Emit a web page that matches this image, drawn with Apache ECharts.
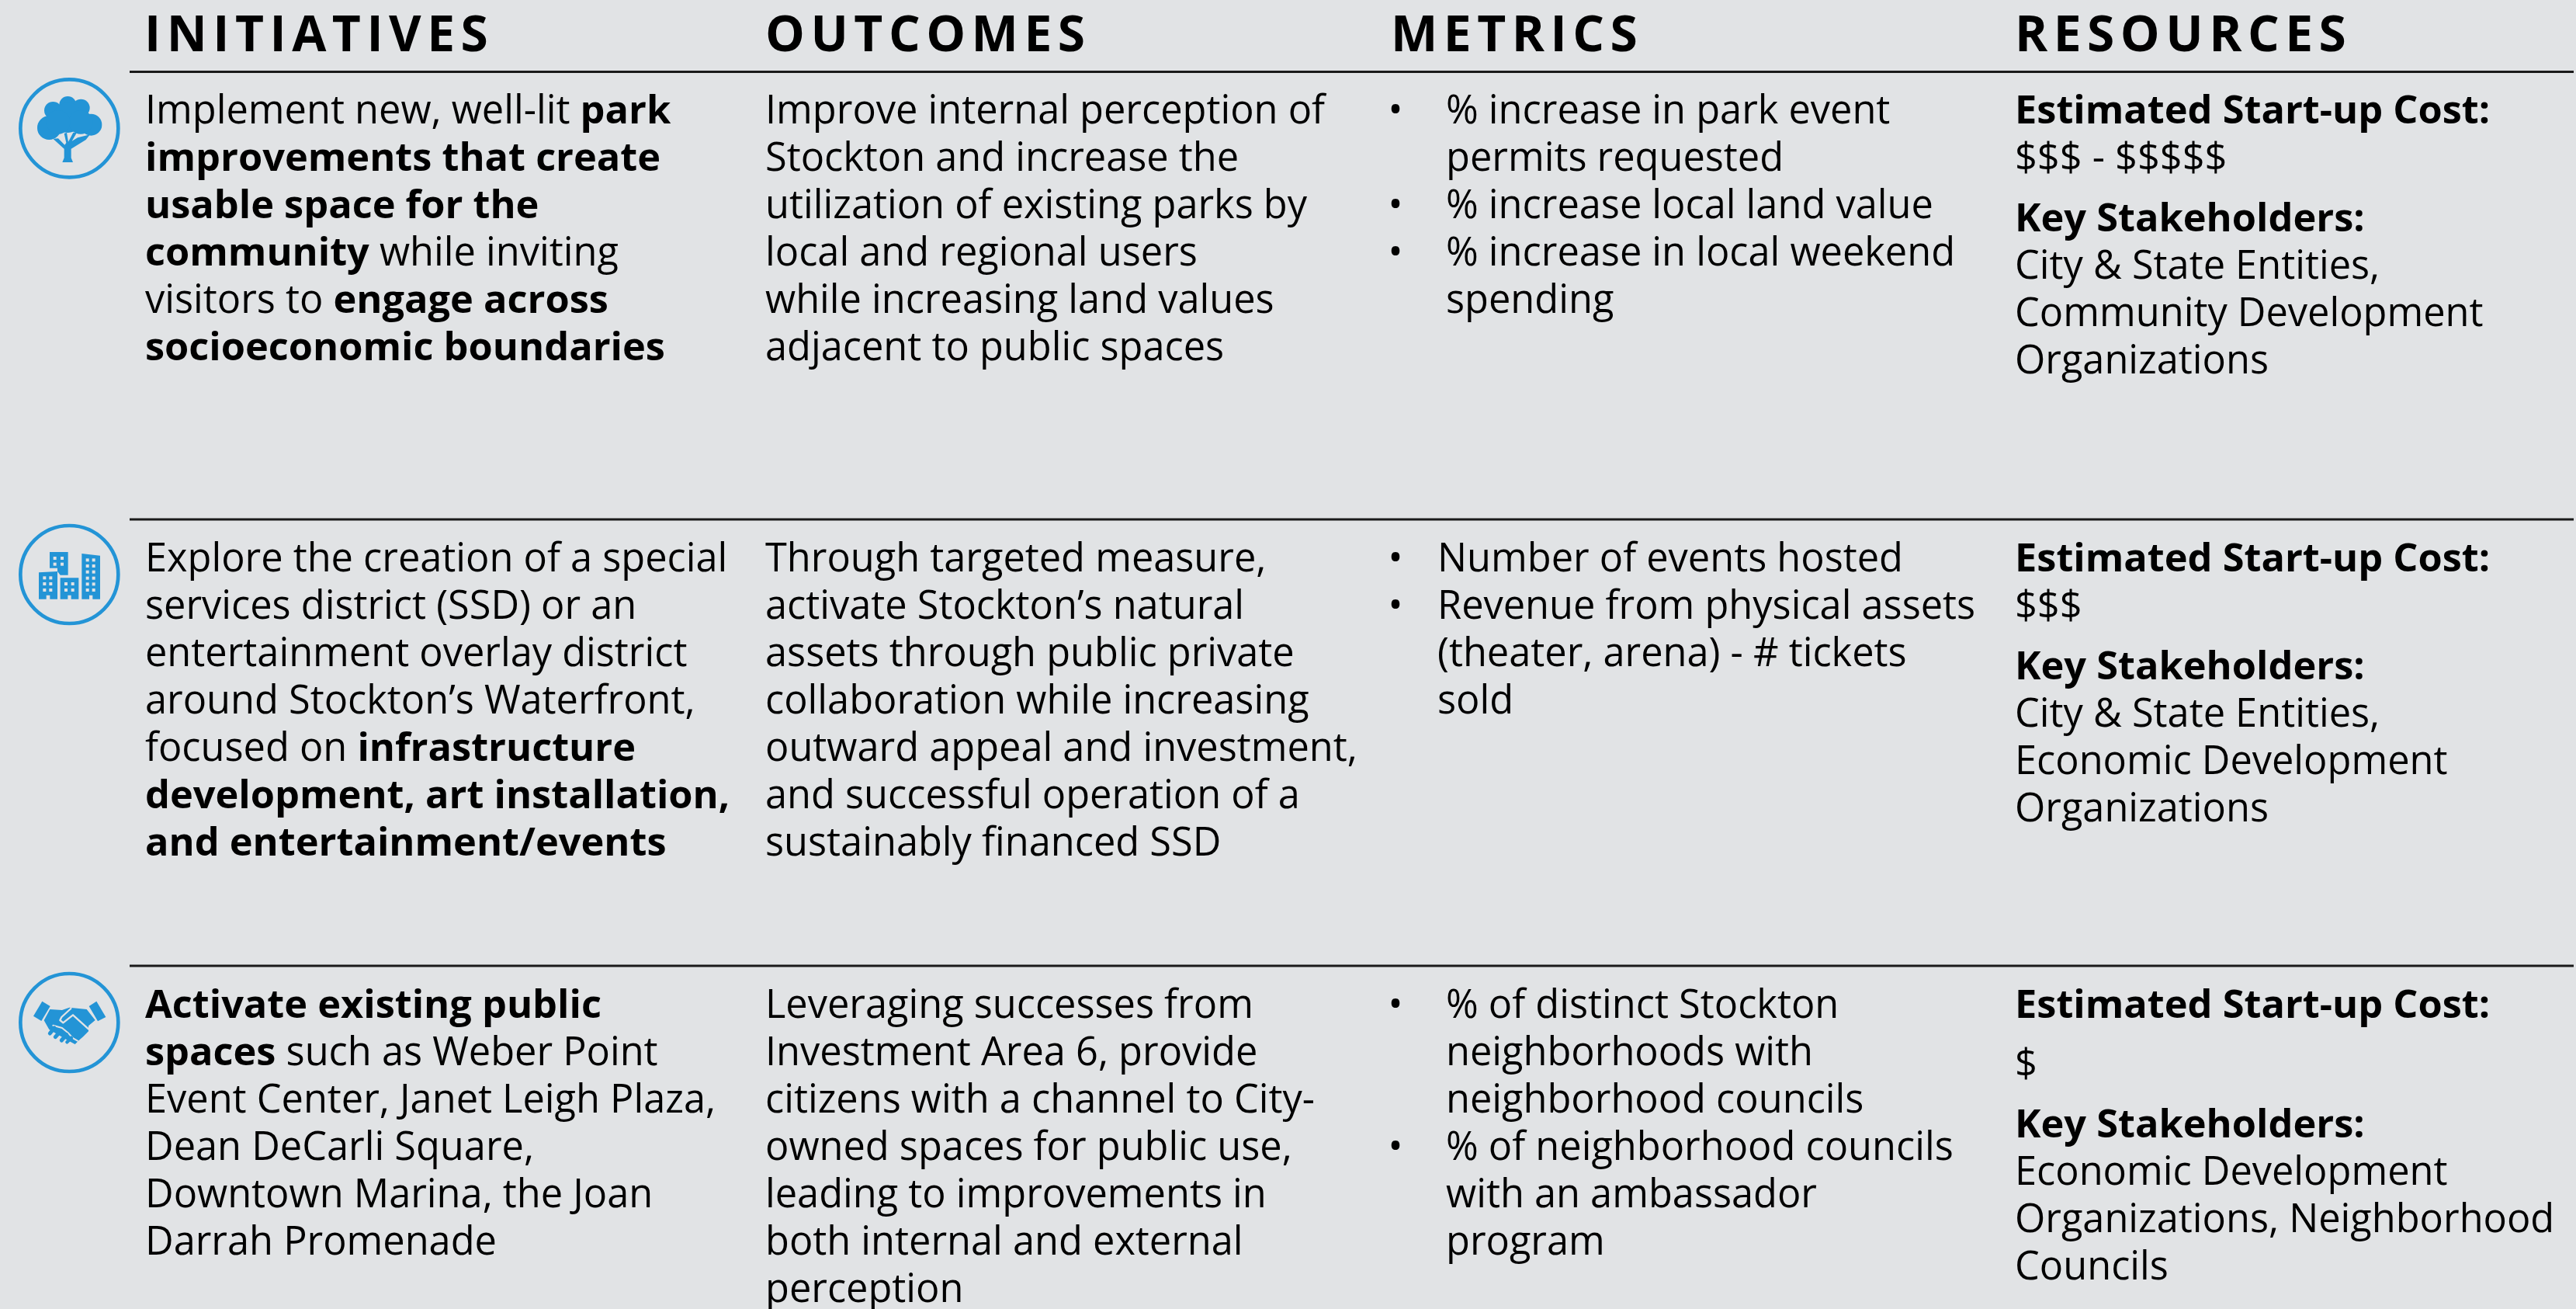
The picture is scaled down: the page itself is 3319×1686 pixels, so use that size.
<!DOCTYPE html>
<html>
<head>
<meta charset="utf-8">
<style>
  html, body { margin: 0; padding: 0; background: #e1e3e5; }
  #chart { width: 3319px; height: 1686px; }
</style>
<script src="https://cdn.jsdelivr.net/npm/echarts@6/dist/echarts.min.js"></script>
</head>
<body>
<div id="chart"></div>
<script>
const headers = ['INITIATIVES', 'OUTCOMES', 'METRICS', 'RESOURCES'];

const initiatives = [
  ['Implement new, well-lit {b|park}', '{b|improvements that create}', '{b|usable space for the}', '{b|community} while inviting', 'visitors to {b|engage across}', '{b|socioeconomic boundaries}'],
  ['Explore the creation of a special', 'services district (SSD) or an', 'entertainment overlay district', 'around Stockton\u2019s Waterfront,', 'focused on {b|infrastructure}', '{b|development, art installation,}', '{b|and entertainment/events}'],
  ['{b|Activate existing public}', '{b|spaces} such as Weber Point', 'Event Center, Janet Leigh Plaza,', 'Dean DeCarli Square,', 'Downtown Marina, the Joan', 'Darrah Promenade']
];

const outcomes = [
  ['Improve internal perception of', 'Stockton and increase the', 'utilization of existing parks by', 'local and regional users', 'while increasing land values', 'adjacent to public spaces'],
  ['Through targeted measure,', 'activate Stockton\u2019s natural', 'assets through public private', 'collaboration while increasing', 'outward appeal and investment,', 'and successful operation of a', 'sustainably financed SSD'],
  ['Leveraging successes from', 'Investment Area 6, provide', 'citizens with a channel to City-', 'owned spaces for public use,', 'leading to improvements in', 'both internal and external', 'perception']
];

const metrics = [
  [['% increase in park event', 'permits requested'], ['% increase local land value'], ['% increase in local weekend', 'spending']],
  [['Number of events hosted'], ['Revenue from physical assets', '(theater, arena) - # tickets', 'sold']],
  [['% of distinct Stockton', 'neighborhoods with', 'neighborhood councils'], ['% of neighborhood councils', 'with an ambassador', 'program']]
];

const costLabel = 'Estimated Start-up Cost:';
const costs = ['$$$ - $$$$$', '$$$', '$'];
const stakeLabel = 'Key Stakeholders:';
const stakeholders = [
  ['City & State Entities,', 'Community Development', 'Organizations'],
  ['City & State Entities,', 'Economic Development', 'Organizations'],
  ['Economic Development', 'Organizations, Neighborhood', 'Councils']
];

const BG = '#e1e3e5';
const BLUE = '#2394d6';
const FONT = '"Open Sans"';
const bodySize = 50.5;
const lineH = 61;
const rowY = [145, 722, 1297];      // middle of first text line
const ruleY = [92.5, 669, 1244];
const headerX = [186, 986, 1792, 2596];
const colX = [187, 986, 1795, 2596];
const metricTextX = [1863, 1852, 1863];
const costGap = [61, 61, 76];
const keyGap = 78;

// zrender has no letter spacing, so add it for the header strings only
const rawFillText = CanvasRenderingContext2D.prototype.fillText;
CanvasRenderingContext2D.prototype.fillText = function (text, x, y) {
  if (headers.includes(text)) {
    this.letterSpacing = '7.5px';
    rawFillText.call(this, text, x, y);
    this.letterSpacing = '0px';
  } else {
    rawFillText.call(this, text, x, y);
  }
};

const textEl = (text, x, y, bold) => ({
  type: 'text',
  x: x,
  y: y,
  silent: true,
  style: {
    text: text,
    fill: '#000',
    font: `${bold ? 700 : 400} ${bodySize}px ${FONT}`,
    verticalAlign: 'middle',
    align: 'left',
    rich: {
      b: { fontFamily: FONT, fontWeight: 700, fontSize: bodySize, fill: '#000', lineHeight: lineH }
    }
  }
});

const elements = [];

headers.forEach((h, i) => {
  elements.push({
    type: 'text', x: headerX[i], y: 48, silent: true,
    style: { text: h, fill: '#000', font: `700 64px ${FONT}`, verticalAlign: 'middle' }
  });
});

ruleY.forEach(y => {
  elements.push({
    type: 'line', silent: true,
    shape: { x1: 167, y1: y, x2: 3316, y2: y },
    style: { stroke: '#1a1a1a', lineWidth: 3 }
  });
});

rowY.forEach((top, r) => {
  initiatives[r].forEach((t, i) => elements.push(textEl(t, colX[0], top + i * lineH)));
  outcomes[r].forEach((t, i) => elements.push(textEl(t, colX[1], top + i * lineH)));

  let n = 0;
  metrics[r].forEach(item => {
    elements.push({
      type: 'text', x: colX[2] + 3, y: top + n * lineH, silent: true,
      style: { text: '\u2022', fill: '#000', font: `400 ${bodySize}px ${FONT}`, verticalAlign: 'middle', align: 'center' }
    });
    item.forEach(t => {
      elements.push(textEl(t, metricTextX[r], top + n * lineH));
      n++;
    });
  });

  let y = top;
  elements.push(textEl(costLabel, colX[3], y, true));
  y += costGap[r];
  elements.push(textEl(costs[r], colX[3], y));
  y += keyGap;
  elements.push(textEl(stakeLabel, colX[3], y, true));
  stakeholders[r].forEach(t => {
    y += lineH;
    elements.push(textEl(t, colX[3], y));
  });
});

// icons, drawn in the 3x coordinates of the crops they were read from
const ring = (cx, cy) => ({
  type: 'circle', silent: true,
  shape: { cx: cx, cy: cy, r: 189 },
  style: { fill: 'none', stroke: BLUE, lineWidth: 14 }
});
const blue = { fill: BLUE };
const circle = (cx, cy, r) => ({ type: 'circle', silent: true, shape: { cx, cy, r }, style: blue });
const poly = (points, style) => ({ type: 'polygon', silent: true, shape: { points }, style: style || blue });
const stroke = (points, color, width) => ({
  type: 'polyline', silent: true, shape: { points },
  style: { stroke: color, lineWidth: width, fill: 'none', lineCap: 'round', lineJoin: 'round' }
});
const iconGroup = (y, children) => ({ type: 'group', x: 0, y: y, scaleX: 1 / 3, scaleY: 1 / 3, silent: true, children });

const treeIcon = iconGroup(80, [
  ring(268, 256),
  circle(262, 165, 33), circle(205, 187, 34), circle(313, 177, 34),
  circle(190, 254, 46), circle(352, 242, 42), circle(262, 215, 58), circle(312, 232, 46), circle(225, 232, 46),
  poly([[241, 387], [282, 387], [275, 370], [275, 335], [332, 300], [348, 280], [300, 292], [278, 305], [297, 272], [283, 272], [264, 308], [258, 272], [248, 276], [256, 312], [250, 320], [225, 295], [205, 296], [248, 335], [248, 370]])
]);

const door = (x0, x1, yBottom) => [[x1, yBottom], [x1 - 29, yBottom], [x1 - 29, yBottom - 15], [x0 + 29, yBottom - 15], [x0 + 29, yBottom], [x0, yBottom]];
const windowCells = [
  [212, 207], [240, 207], [212, 230], [240, 230],
  [172, 283], [196, 283], [172, 306], [196, 306], [172, 330], [196, 330],
  [255, 306], [281, 306], [255, 330], [281, 330],
  [338, 214], [362, 214], [338, 237], [362, 237], [338, 260], [362, 260], [338, 284], [362, 284], [338, 307], [362, 307], [338, 330], [362, 330]
];
const cityIcon = iconGroup(650, [
  ring(268, 270),
  poly([[192, 183], [263, 183], [263, 272], [233, 272], [222, 258], [222, 245], [192, 245]]),
  poly([[150, 262], [222, 258]].concat(door(150, 222, 365))),
  poly([[233, 283], [304, 283]].concat(door(233, 304, 365))),
  poly([[316, 189], [387, 197]].concat(door(316, 387, 365)))
].concat(windowCells.map(c => ({
  type: 'rect', silent: true,
  shape: { x: c[0] - 6, y: c[1] - 6, width: 12, height: 12 },
  style: { fill: BG }
}))));

const shakeIcon = iconGroup(1220, [
  ring(268, 291),
  poly([[163, 209], [194, 228], [160, 285], [129, 266]]),
  poly([[373, 209], [409, 270], [378, 286], [344, 228]]),
  poly([[193, 240], [240, 243], [268, 233], [335, 240], [368, 282], [342, 304], [342, 325], [322, 345], [305, 360], [290, 375], [262, 360], [190, 318], [170, 283]]),
  stroke([[274, 237], [238, 270], [232, 282], [244, 292], [282, 262], [342, 316]], BG, 7),
  stroke([[205, 302], [240, 312], [262, 330], [283, 352], [300, 362]], BG, 6),
  stroke([[193, 333], [210, 312]], BLUE, 15),
  stroke([[214, 347], [234, 324]], BLUE, 15),
  stroke([[238, 360], [257, 338]], BLUE, 15),
  stroke([[259, 367], [276, 350]], BLUE, 13)
]);

elements.push(treeIcon, cityIcon, shakeIcon);

const chart = echarts.init(document.getElementById('chart'));
chart.setOption({
  animation: false,
  backgroundColor: BG,
  graphic: { elements: elements }
});
window.addEventListener('resize', () => chart.resize());
</script>
</body>
</html>
